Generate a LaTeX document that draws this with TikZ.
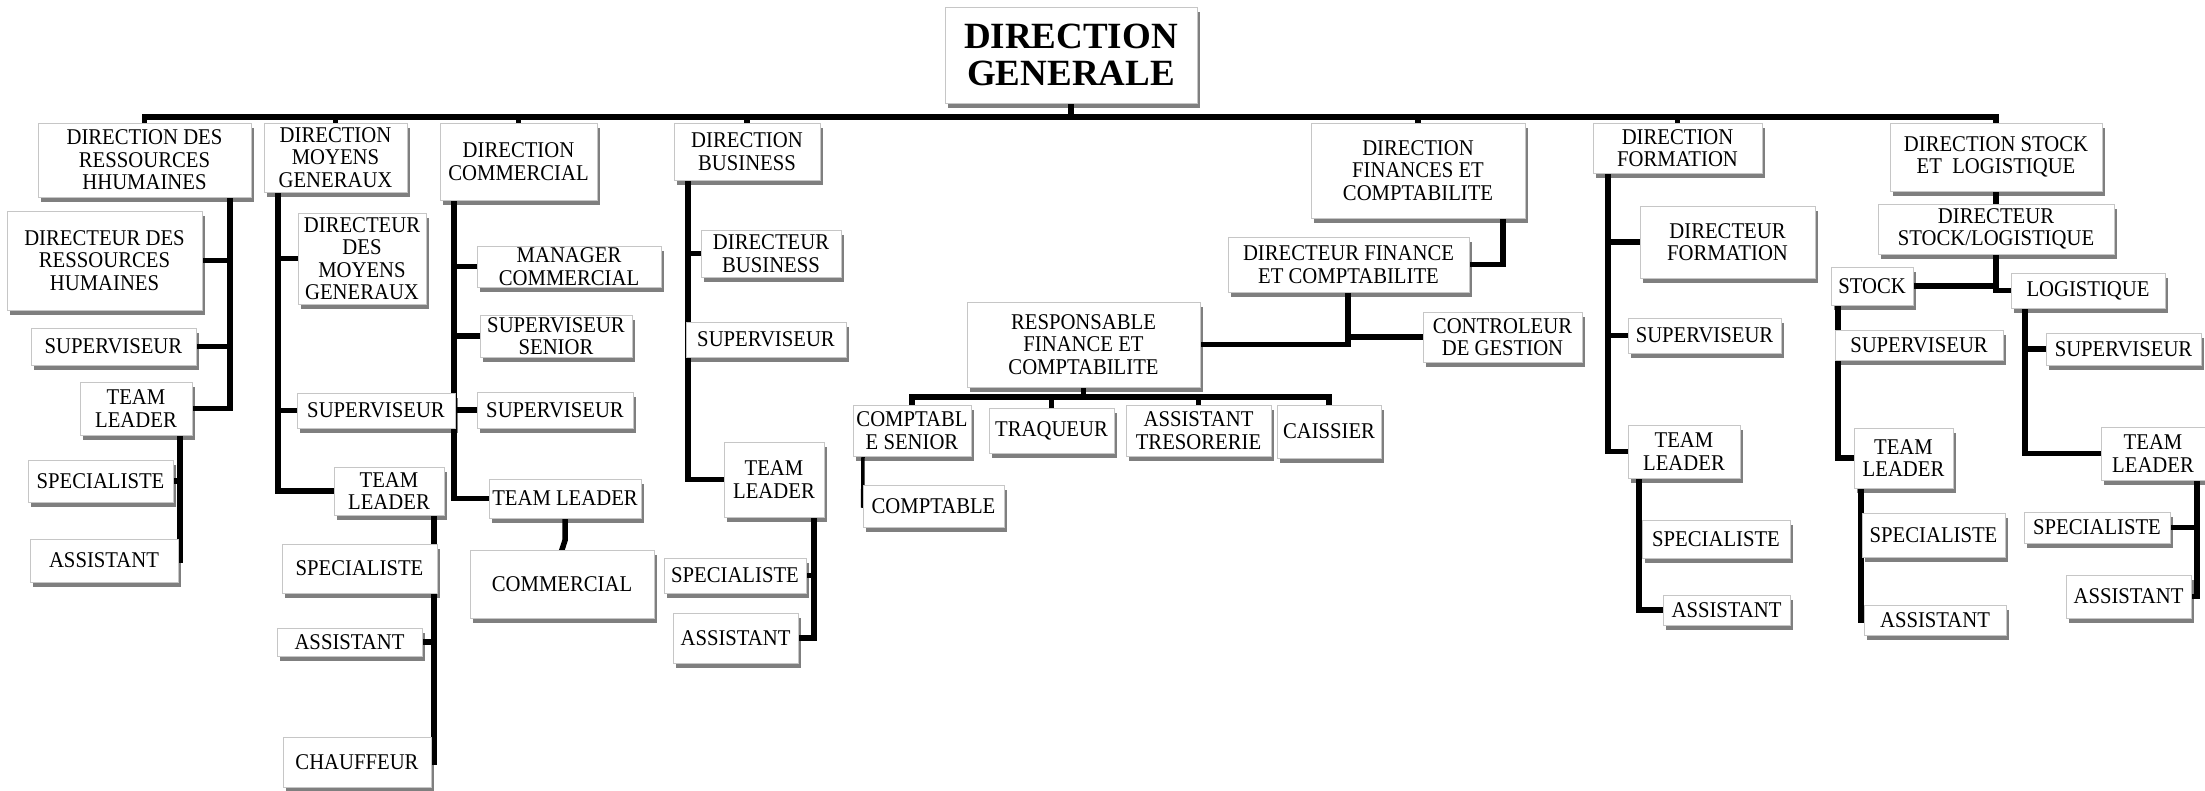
\documentclass[tikz,border=0pt]{standalone}
\usepackage{fontspec}
\setmainfont{Liberation Serif}[FakeStretch=0.92]
\newfontfamily\titlefont{Liberation Serif}
\usetikzlibrary{shadows,backgrounds}
\tikzset{
  boxx/.style={draw=gray!45, line width=0.8pt, fill=white, inner sep=0pt, align=center,
    font=\fontsize{22.5}{22.5}\selectfont,
    drop shadow={shadow xshift=2.5pt, shadow yshift=-4.5pt, opacity=0.5, fill=black}},
  ln/.style={line width=5.5pt, line cap=rect, line join=miter, black},
}
\newcommand\bx[6]{\node[boxx, minimum width={#4-#2}, minimum height={#5-#3}] (#1) at ({(#2+#4)/2},{-(#3+#5)/2}) {#6};}
\begin{document}
\begin{tikzpicture}[x=1pt,y=1pt]
\useasboundingbox (0,0) rectangle (2205,-790);
% title
\node[boxx, minimum width=252, minimum height=96, font=\titlefont\bfseries\fontsize{37}{37}\selectfont] (dg) at (1071,-55) {DIRECTION\\GENERALE};
% directions
\bx{drh}{38}{123}{251}{197}{DIRECTION DES\\RESSOURCES\\HHUMAINES}
\bx{dmg}{264}{123}{407}{192}{DIRECTION\\MOYENS\\GENERAUX}
\bx{dcom}{440}{123}{597}{200}{DIRECTION\\COMMERCIAL}
\bx{dbus}{674}{123}{820}{180}{DIRECTION\\BUSINESS}
\bx{dfin}{1311}{123}{1525}{218}{DIRECTION\\FINANCES ET\\COMPTABILITE}
\bx{dfor}{1593}{123}{1762}{173}{DIRECTION\\FORMATION}
\bx{dsl}{1890}{123}{2102}{191}{DIRECTION STOCK\\ET\ \ LOGISTIQUE}
% RH
\bx{rh1}{7}{211}{202}{310}{DIRECTEUR DES\\RESSOURCES\\HUMAINES}
\bx{rh2}{31}{328}{196}{365}{SUPERVISEUR}
\bx{rh3}{80}{382}{192}{435}{TEAM\\LEADER}
\bx{rh4}{28}{460}{173}{502}{SPECIALISTE}
\bx{rh5}{30}{539}{178}{582}{ASSISTANT}
% MG
\bx{mg1}{298}{213}{426}{304}{DIRECTEUR\\DES\\MOYENS\\GENERAUX}
\bx{mg2}{297}{393}{455}{428}{SUPERVISEUR}
\bx{mg3}{334}{467}{444}{515}{TEAM\\LEADER}
\bx{mg4}{282}{544}{437}{593}{SPECIALISTE}
\bx{mg5}{277}{628}{422}{656}{ASSISTANT}
\bx{mg6}{283}{737}{431}{787}{CHAUFFEUR}
% Commercial
\bx{c1}{477}{246}{661}{287}{MANAGER\\COMMERCIAL}
\bx{c2}{480}{315}{632}{357}{SUPERVISEUR\\SENIOR}
\bx{c3}{477}{392}{633}{428}{SUPERVISEUR}
\bx{c4}{489}{479}{641}{518}{TEAM LEADER}
\bx{c5}{470}{550}{654}{618}{COMMERCIAL}
% Business
\bx{b1}{701}{230}{841}{277}{DIRECTEUR\\BUSINESS}
\bx{b2}{686}{322}{846}{357}{SUPERVISEUR}
\bx{b3}{724}{442}{824}{517}{TEAM\\LEADER}
\bx{b4}{664}{558}{806}{593}{SPECIALISTE}
\bx{b5}{673}{613}{798}{663}{ASSISTANT}
% Finance
\bx{f1}{1228}{237}{1469}{292}{DIRECTEUR FINANCE\\ET COMPTABILITE}
\bx{f2}{967}{302}{1200}{387}{RESPONSABLE\\FINANCE ET\\COMPTABILITE}
\bx{f3}{1423}{312}{1582}{362}{CONTROLEUR\\DE GESTION}
\bx{f4}{853}{405}{971}{456}{COMPTABL\\E SENIOR}
\bx{f5}{989}{408}{1114}{453}{TRAQUEUR}
\bx{f6}{1126}{405}{1271}{456}{ASSISTANT\\TRESORERIE}
\bx{f7}{1277}{405}{1381}{458}{CAISSIER}
\bx{f8}{863}{485}{1004}{527}{COMPTABLE}
% Formation
\bx{fo1}{1640}{206}{1815}{278}{DIRECTEUR\\FORMATION}
\bx{fo2}{1628}{318}{1781}{353}{SUPERVISEUR}
\bx{fo3}{1628}{425}{1740}{478}{TEAM\\LEADER}
\bx{fo4}{1642}{520}{1790}{558}{SPECIALISTE}
\bx{fo5}{1663}{595}{1790}{625}{ASSISTANT}
% Stock / Logistique
\bx{sl1}{1878}{204}{2114}{254}{DIRECTEUR\\STOCK/LOGISTIQUE}
\bx{s0}{1831}{267}{1913}{305}{STOCK}
\bx{l0}{2011}{273}{2165}{308}{LOGISTIQUE}
\bx{s1}{1835}{330}{2003}{360}{SUPERVISEUR}
\bx{s2}{1854}{428}{1953}{488}{TEAM\\LEADER}
\bx{s3}{1862}{513}{2005}{557}{SPECIALISTE}
\bx{s4}{1864}{605}{2006}{635}{ASSISTANT}
\bx{l1}{2046}{333}{2201}{365}{SUPERVISEUR}
\bx{l2}{2101}{427}{2205}{480}{TEAM\\LEADER}
\bx{l3}{2024}{512}{2170}{543}{SPECIALISTE}
\bx{l4}{2066}{575}{2191}{618}{ASSISTANT}

\begin{scope}[on background layer]
\coordinate (bar) at (0,-117);
\draw[ln] (dg.south) -- (dg.south |- bar);
\draw[ln] (drh.north) -- (drh.north |- bar) -- (dsl.north |- bar) -- (dsl.north);
\foreach \n in {dmg,dcom,dbus,dfin,dfor} \draw[ln] (\n.north) -- (\n.north |- bar);
% RH
\draw[ln] (drh.south -| 230,0) -- (rh3.east -| 230,0) -- (rh3.east);
\draw[ln] (rh1.east) -- (rh1.east -| 230,0);
\draw[ln] (rh2.east) -- (rh2.east -| 230,0);
\draw[ln] (rh3.south -| 180,0) -- (rh5.east -| 180,0) -- (rh5.east);
\draw[ln] (rh4.east) -- (rh4.east -| 180,0);
% MG
\draw[ln] (dmg.south -| 278,0) -- (mg3.west -| 278,0) -- (mg3.west);
\draw[ln] (mg1.west) -- (mg1.west -| 278,0);
\draw[ln] (mg2.west) -- (mg2.west -| 278,0);
\draw[ln] (mg3.south -| 434,0) -- (mg6.east -| 434,0);
\draw[ln] (mg5.east) -- (mg5.east -| 434,0);
% Com
\draw[ln] (dcom.south -| 454,0) -- (c4.west -| 454,0) -- (c4.west);
\foreach \n in {c1,c2,c3} \draw[ln] (\n.west) -- (\n.west -| 454,0);
\draw[ln] (c4.south) -- ++(0,-22) -- (c5.north);
% Bus
\draw[ln] (dbus.south -| 688,0) -- (b3.west -| 688,0) -- (b3.west);
\draw[ln] (b1.west) -- (b1.west -| 688,0);
\draw[ln] (b3.south -| 814,0) -- (b5.east -| 814,0) -- (b5.east);
\draw[ln] (b4.east) -- (b4.east -| 814,0);
% Fin
\draw[ln] (dfin.south -| 1503,0) |- (f1.east);
\draw[ln] (f1.south -| 1348,0) |- (f2.east);
\draw[ln] (f3.west) -- (f3.west -| 1348,0);
\coordinate (fbar) at (0,-397);
\draw[ln] (f2.south) -- (f2.south |- fbar);
\draw[ln] (f4.north) -- (f4.north |- fbar) -- (f7.north |- fbar) -- (f7.north);
\draw[ln] (f5.north) -- (f5.north |- fbar);
\draw[ln] (f6.north) -- (f6.north |- fbar);
\draw[ln, line width=3.5pt] (f4.south -| 863,0) -- (f8.west);
% Formation
\draw[ln] (dfor.south -| 1608,0) -- (fo3.west -| 1608,0) -- (fo3.west);
\draw[ln] (fo1.west) -- (fo1.west -| 1608,0);
\draw[ln] (fo2.west) -- (fo2.west -| 1608,0);
\draw[ln] (fo3.south -| 1639,0) -- (fo5.west -| 1639,0) -- (fo5.west);
% Stock / Log
\draw[ln] (dsl.south) -- (sl1.north);
\draw[ln] (sl1.south) -- (l0.west -| sl1.south) -- (l0.west);
\draw[ln] (s0.east) -- (s0.east -| sl1.south);
\draw[ln] (s0.south -| 1838,0) -- (s2.west -| 1838,0) -- (s2.west);
\draw[ln] (s2.south -| 1861,0) -- (s4.west -| 1861,0);
\draw[ln] (l0.south -| 2025,0) -- (l2.west -| 2025,0) -- (l2.west);
\draw[ln] (l1.west) -- (l1.west -| 2025,0);
\draw[ln] (l2.south -| 2197,0) -- (l4.east -| 2197,0) -- (l4.east);
\draw[ln] (l3.east) -- (l3.east -| 2197,0);
\end{scope}
\end{tikzpicture}
\end{document}
